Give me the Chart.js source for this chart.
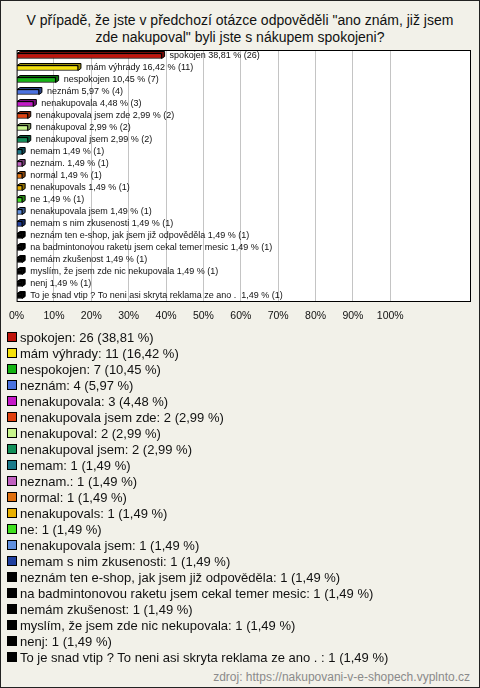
<!DOCTYPE html>
<html>
<head>
<meta charset="utf-8">
<script src="https://cdn.jsdelivr.net/npm/chart.js@4"></script>
<style>
  body { margin: 0; font-family: "Liberation Sans", Arial, sans-serif; }
  #page { position: relative; width: 480px; height: 688px; box-sizing: border-box; border: 1px solid #222; background: #f2f1e9; overflow: hidden; }
  #title { position: absolute; left: 0; top: 11px; width: 478px; text-align: center; font-size: 14px; line-height: 17px; color: #111; }
  #chartBox { position: absolute; left: 0; top: 0; width: 478px; height: 330px; }
  #legend { position: absolute; left: 6px; top: 328px; font-size: 13px; color: #111; }
  .row { display: flex; align-items: center; height: 16px; white-space: pre; }
  .mark { width: 8px; height: 8px; border: 1px solid #000; margin-right: 3px; }
  #source { position: absolute; right: 9px; top: 668px; font-size: 12px; line-height: 16px; color: #8a8a8a; }
</style>
</head>
<body>
<div id="page">
  <div id="title">V případě, že jste v předchozí otázce odpověděli "ano znám, již jsem<br>zde nakupoval" byli jste s nákupem spokojeni?</div>
  <div id="chartBox"><canvas id="chart"></canvas></div>
  <div id="legend"></div>
  <div id="source">zdroj: https://nakupovani-v-e-shopech.vyplnto.cz</div>
</div>
<script>
const categories = [
    "spokojen", "mám výhrady", "nespokojen", "neznám", "nenakupovala",
    "nenakupovala jsem zde", "nenakupoval", "nenakupoval jsem", "nemam", "neznam.",
    "normal", "nenakupovals", "ne", "nenakupovala jsem", "nemam s nim zkusenosti",
    "neznám ten e-shop, jak jsem již odpověděla", "na badmintonovou raketu jsem cekal temer mesic",
    "nemám zkušenost", "myslím, že jsem zde nic nekupovala", "nenj",
    "To je snad vtip ? To neni asi skryta reklama ze ano . "
];
const counts = [26, 11, 7, 4, 3, 2, 2, 2, 1, 1, 1, 1, 1, 1, 1, 1, 1, 1, 1, 1, 1];
const percents = [38.81, 16.42, 10.45, 5.97, 4.48, 2.99, 2.99, 2.99, 1.49, 1.49, 1.49, 1.49, 1.49, 1.49, 1.49, 1.49, 1.49, 1.49, 1.49, 1.49, 1.49];
const colors = [
    "#c0140c", "#f5e10a", "#14b414", "#4a72e0", "#c418c8",
    "#e0400e", "#c8f58c", "#12905a", "#1a7a8a", "#c060c0",
    "#e0700e", "#e8b000", "#40e020", "#6090e0", "#2040a0",
    "#000000", "#000000", "#000000", "#000000", "#000000", "#000000"
];
const xTicks = [0, 10, 20, 30, 40, 50, 60, 70, 80, 90, 100];

function fmt(v) {
    return v.toFixed(2).replace('.', ',');
}

function shade(hex, f) {
    const n = parseInt(hex.slice(1), 16);
    const r = Math.round(((n >> 16) & 255) * f);
    const g = Math.round(((n >> 8) & 255) * f);
    const b = Math.round((n & 255) * f);
    return `rgb(${r},${g},${b})`;
}

// white plot box with black frame
const plotBox = {
    id: 'plotBox',
    beforeDraw(chart) {
        const a = chart.chartArea;
        const ctx = chart.ctx;
        ctx.save();
        ctx.fillStyle = '#ffffff';
        ctx.fillRect(a.left, a.top, a.right - a.left, a.bottom - a.top);
        ctx.restore();
    },
    afterDraw(chart) {
        const a = chart.chartArea;
        const ctx = chart.ctx;
        ctx.save();
        ctx.strokeStyle = '#000';
        ctx.lineWidth = 1;
        ctx.strokeRect(a.left + 0.5, a.top + 0.5, a.right - a.left - 1, a.bottom - a.top - 1);
        ctx.restore();
    }
};

// fake 3d depth behind each bar + value labels
const bars3d = {
    id: 'bars3d',
    beforeDatasetsDraw(chart) {
        const ctx = chart.ctx;
        const meta = chart.getDatasetMeta(0);
        const dx = 3, dy = 2;
        ctx.save();
        ctx.lineWidth = 1;
        ctx.strokeStyle = '#000';
        meta.data.forEach((bar, i) => {
            const top = bar.y - bar.height / 2;
            const bottom = bar.y + bar.height / 2;
            ctx.fillStyle = shade(colors[i], 0.6);
            ctx.beginPath();
            ctx.moveTo(bar.base, top);
            ctx.lineTo(bar.base + dx, top - dy);
            ctx.lineTo(bar.x + dx, top - dy);
            ctx.lineTo(bar.x + dx, bottom - dy);
            ctx.lineTo(bar.x, bottom);
            ctx.lineTo(bar.x, top);
            ctx.closePath();
            ctx.fill();
            ctx.stroke();
        });
        ctx.restore();
    },
    afterDatasetsDraw(chart) {
        const ctx = chart.ctx;
        const meta = chart.getDatasetMeta(0);
        ctx.save();
        ctx.font = '9px "Liberation Sans", Arial, sans-serif';
        ctx.fillStyle = '#111';
        ctx.textBaseline = 'middle';
        meta.data.forEach((bar, i) => {
            ctx.fillText(`${categories[i]} ${fmt(percents[i])} % (${counts[i]})`, bar.x + 8, bar.y);
        });
        ctx.restore();
    }
};

new Chart(document.getElementById('chart'), {
    type: 'bar',
    data: {
        labels: categories,
        datasets: [{
            data: percents,
            backgroundColor: colors,
            borderColor: '#000',
            borderWidth: 1,
            barThickness: 5
        }]
    },
    options: {
        indexAxis: 'y',
        responsive: true,
        maintainAspectRatio: false,
        animation: false,
        layout: { padding: { left: 10, right: 6, top: 49, bottom: 0 } },
        plugins: { legend: { display: false }, tooltip: { enabled: false } },
        scales: {
            y: { display: false },
            x: {
                min: 0,
                max: 121.6,
                border: { display: false },
                grid: {
                    drawTicks: false,
                    color: c => (c.tick && c.tick.value > 0 && c.tick.value <= 100) ? '#c4c4c4' : 'rgba(0,0,0,0)'
                },
                ticks: {
                    stepSize: 10,
                    padding: 8,
                    maxRotation: 0,
                    autoSkip: false,
                    color: '#111',
                    font: { family: '"Liberation Sans", Arial, sans-serif', size: 10.5 },
                    callback: v => xTicks.includes(v) ? v + '%' : ''
                },
                afterFit: s => { s.height = 29; }
            }
        }
    },
    plugins: [plotBox, bars3d]
});

const legend = document.getElementById('legend');
categories.forEach((c, i) => {
    const row = document.createElement('div');
    row.className = 'row';
    const m = document.createElement('span');
    m.className = 'mark';
    m.style.background = colors[i];
    const t = document.createElement('span');
    t.textContent = `${c}: ${counts[i]} (${fmt(percents[i])} %)`;
    row.appendChild(m);
    row.appendChild(t);
    legend.appendChild(row);
});
</script>
</body>
</html>
